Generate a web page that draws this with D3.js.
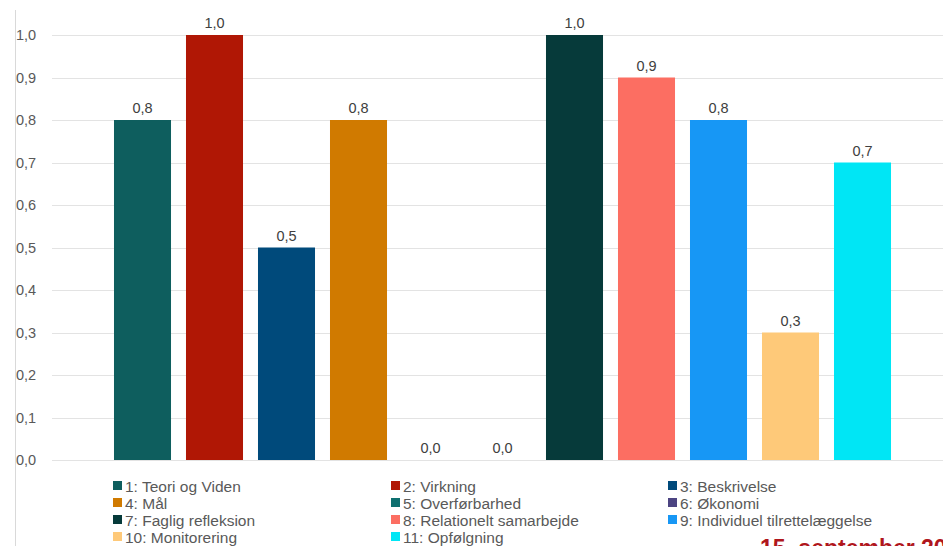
<!DOCTYPE html>
<html>
<head>
<meta charset="utf-8">
<script src="https://cdn.jsdelivr.net/npm/d3@7.9.0/dist/d3.min.js"></script>
<style>
  html, body { margin: 0; padding: 0; background: #fff; overflow: hidden; }
  svg { display: block; font-family: "Liberation Sans", Arial, sans-serif; }
</style>
</head>
<body>
<svg id="chart" width="943" height="546"></svg>
<script>
// Data
const series = ['1: Teori og Viden', '2: Virkning', '3: Beskrivelse', '4: Mål', '5: Overførbarhed',
  '6: Økonomi', '7: Faglig refleksion', '8: Relationelt samarbejde', '9: Individuel tilrettelæggelse',
  '10: Monitorering', '11: Opfølgning'];
const values = [0.8, 1.0, 0.5, 0.8, 0.0, 0.0, 1.0, 0.9, 0.8, 0.3, 0.7];
const colors = ['#0e5e5e', '#b01705', '#004a7b', '#d07a00', '#0f7070', '#4c4482',
  '#063a3a', '#fc6e62', '#1797f5', '#fec979', '#00e6f5'];
const yTicks = [0, 0.1, 0.2, 0.3, 0.4, 0.5, 0.6, 0.7, 0.8, 0.9, 1.0];

const svg = d3.select('#chart');
const fmt = (v) => d3.format('.1f')(v).replace('.', ',');

const x = d3.scaleBand().domain(series).range([106.5, 898.5]).paddingInner(0.208).paddingOuter(0.104);
const y = d3.scaleLinear().domain([0, 1]).range([460, 35]);

// slide border line on the left
svg.append('line')
  .attr('x1', 15.5).attr('x2', 15.5).attr('y1', 10).attr('y2', 546)
  .attr('stroke', '#d9d9d9').attr('stroke-width', 1);

// gridlines
svg.append('g')
  .selectAll('line')
  .data(yTicks)
  .join('line')
  .attr('x1', 52).attr('x2', 943)
  .attr('y1', (d) => Math.round(y(d)) + 0.5)
  .attr('y2', (d) => Math.round(y(d)) + 0.5)
  .attr('stroke', '#e3e3e3');

// y axis labels
const yAxis = d3.axisLeft(y).tickValues(yTicks).tickFormat(fmt).tickSize(0).tickPadding(0);
const ya = svg.append('g').attr('transform', 'translate(16,0)').call(yAxis);
ya.select('.domain').remove();
ya.selectAll('text')
  .attr('text-anchor', 'start')
  .attr('fill', '#595959')
  .attr('font-size', 14.5)
  .attr('font-family', '"Liberation Sans", Arial, sans-serif');

// bars
svg.append('g')
  .selectAll('rect')
  .data(values)
  .join('rect')
  .attr('x', (d, i) => x(series[i]))
  .attr('width', x.bandwidth())
  .attr('y', (d) => y(d))
  .attr('height', (d) => y(0) - y(d))
  .attr('fill', (d, i) => colors[i]);

// value labels
svg.append('g')
  .selectAll('text')
  .data(values)
  .join('text')
  .attr('x', (d, i) => x(series[i]) + x.bandwidth() / 2)
  .attr('y', (d) => y(d) - 7)
  .attr('text-anchor', 'middle')
  .attr('fill', '#404040')
  .attr('font-size', 14.5)
  .text(fmt);

// legend (3 columns)
const legCols = [113, 391, 668];
const legRows = [486, 503, 520, 537];
const legend = svg.append('g')
  .selectAll('g')
  .data(series)
  .join('g')
  .attr('transform', (d, i) => `translate(${legCols[i % 3]},${legRows[Math.floor(i / 3)]})`);
legend.append('rect')
  .attr('x', 0).attr('y', -5).attr('width', 9).attr('height', 9)
  .attr('fill', (d, i) => colors[i]);
legend.append('text')
  .attr('x', 12).attr('y', 5.5)
  .attr('fill', '#595959')
  .attr('font-size', 15.5)
  .text((d) => d);

// date footer (cut off at the edge, as in the slide)
svg.append('text')
  .attr('x', 760).attr('y', 556)
  .attr('fill', '#b0161c')
  .attr('font-size', 23)
  .attr('font-weight', 'bold')
  .text('15. september 2021');
</script>
</body>
</html>
